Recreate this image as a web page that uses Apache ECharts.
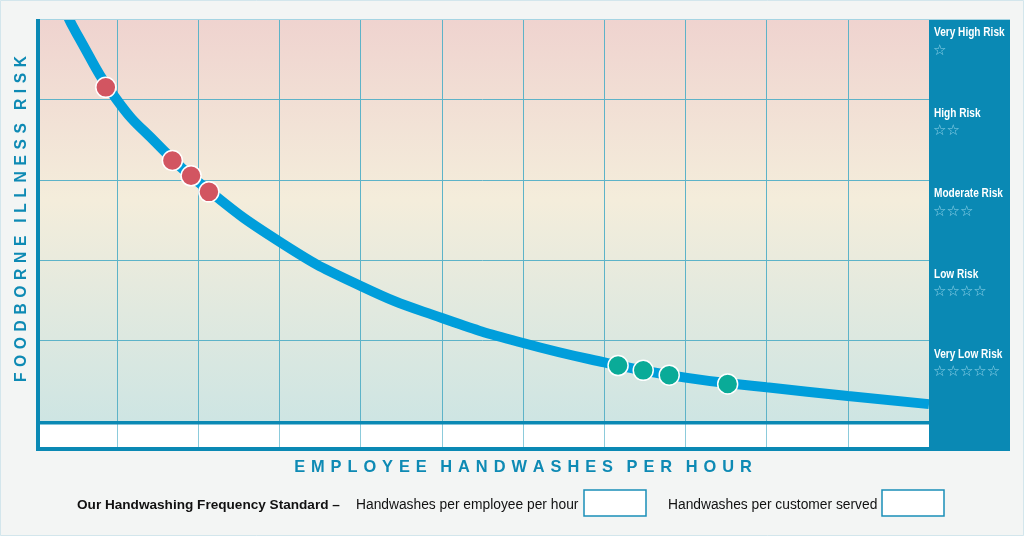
<!DOCTYPE html>
<html>
<head>
<meta charset="utf-8">
<script src="https://cdn.jsdelivr.net/npm/echarts@6/dist/echarts.min.js"></script>
<style>
html,body{margin:0;padding:0;background:#f3f5f4;}
#chart{width:1024px;height:536px;}
</style>
</head>
<body>
<div id="chart"></div>
<script>
// values: x = handwashes (grid columns), y = risk (grid rows)
var riskLevels = ['Very High Risk', 'High Risk', 'Moderate Risk', 'Low Risk', 'Very Low Risk'];
var riskStars = [1, 2, 3, 4, 5];
var riskCurve = [
    [0.33, 5.17], [0.5, 4.82], [1, 3.99], [1.5, 3.44], [2, 2.97],
    [3, 2.23], [4, 1.68], [5, 1.28], [6, 0.97], [7, 0.73],
    [8, 0.54], [9, 0.42], [10, 0.31], [11, 0.21]
];
var lowWashers = [[0.86, 4.15], [1.68, 3.24], [1.91, 3.05], [2.13, 2.85]];
var highWashers = [[7.17, 0.69], [7.48, 0.63], [7.80, 0.57], [8.52, 0.46]];
var xTitle = 'EMPLOYEE HANDWASHES PER HOUR';
var yTitle = 'FOODBORNE ILLNESS RISK';
var standardLabel = 'Our Handwashing Frequency Standard \u2013';
var fieldLabels = ['Handwashes per employee per hour', 'Handwashes per customer served'];

var blue = '#0a89b4';
var pageBg = '#f3f5f4';
var gridLeft = 36, gridRight = 929, gridTop = 19, gridBottom = 421;
var rowH = (gridBottom - gridTop) / riskLevels.length;

function spaced(s) {
    return s.split(' ').map(function (w) { return w.split('').join(' \u200A'); }).join('   ');
}

var chart = echarts.init(document.getElementById('chart'));

var graphics = [
    {type: 'rect', z: 0, shape: {x: 0.5, y: 0.5, width: 1023, height: 535}, style: {fill: 'none', stroke: '#d3e6ec', lineWidth: 1}},
    // hides the curve where it runs off the top of the plot
    {type: 'rect', z: 9, shape: {x: gridLeft, y: 2, width: gridRight - gridLeft, height: gridTop - 2}, style: {fill: pageBg}},
    {type: 'rect', z: 10, shape: {x: gridRight, y: gridTop, width: 81, height: 432}, style: {fill: blue}},
    {type: 'rect', z: 10, shape: {x: gridLeft, y: gridTop, width: 4, height: 432}, style: {fill: blue}},
    {type: 'rect', z: 10, shape: {x: gridLeft, y: gridBottom, width: gridRight - gridLeft, height: 3.5}, style: {fill: blue}},
    {type: 'rect', z: 10, shape: {x: gridLeft, y: 447, width: 974, height: 4}, style: {fill: blue}},
    {type: 'line', z: 10, shape: {x1: 40, y1: 19.5, x2: 1010, y2: 19.5}, style: {stroke: '#a6d4e2', lineWidth: 1}},
    {type: 'text', z: 10, x: 22, y: 219, rotation: Math.PI / 2,
        style: {text: spaced(yTitle), fill: '#0e8ab4', font: 'bold 15.6px "Liberation Sans", Arial, sans-serif', align: 'center', verticalAlign: 'middle'}},
    {type: 'text', z: 10, x: 523, y: 467,
        style: {text: spaced(xTitle), fill: '#0e8ab4', font: 'bold 16.4px "Liberation Sans", Arial, sans-serif', align: 'center', verticalAlign: 'middle'}},
    {type: 'text', z: 10, x: 77, y: 505,
        style: {text: standardLabel, fill: '#111', font: 'bold 13.6px "Liberation Sans", Arial, sans-serif', verticalAlign: 'middle'}},
    {type: 'text', z: 10, x: 356, y: 505,
        style: {text: fieldLabels[0], fill: '#111', font: '13.8px "Liberation Sans", Arial, sans-serif', verticalAlign: 'middle'}},
    {type: 'rect', z: 10, shape: {x: 584, y: 490, width: 62, height: 26}, style: {fill: '#fff', stroke: '#1a8fb8', lineWidth: 1.5}},
    {type: 'text', z: 10, x: 668, y: 505,
        style: {text: fieldLabels[1], fill: '#111', font: '13.8px "Liberation Sans", Arial, sans-serif', verticalAlign: 'middle'}},
    {type: 'rect', z: 10, shape: {x: 882, y: 490, width: 62, height: 26}, style: {fill: '#fff', stroke: '#1a8fb8', lineWidth: 1.5}}
];

riskLevels.forEach(function (name, i) {
    var top = gridTop + i * rowH;
    graphics.push({type: 'text', z: 11, x: 934, y: top + 14, scaleX: 0.84,
        style: {text: name, fill: '#fff', font: 'bold 12px "Liberation Sans", Arial, sans-serif', verticalAlign: 'middle'}});
    graphics.push({type: 'text', z: 11, x: 933, y: top + 32,
        style: {text: new Array(riskStars[i] + 1).join('\u2606'), fill: '#8fd2e8', font: '15px "DejaVu Sans", sans-serif', verticalAlign: 'middle'}});
});

var gridLine = {show: true, lineStyle: {color: '#5db3c8', width: 1}};

var option = {
    backgroundColor: pageBg,
    animation: false,
    grid: [
        {left: gridLeft, right: 1024 - gridRight, top: gridTop, bottom: 536 - gridBottom, show: true, borderWidth: 0,
            backgroundColor: new echarts.graphic.LinearGradient(0, 0, 0, 1, [
                {offset: 0, color: '#efd3cf'},
                {offset: 0.45, color: '#f4eddb'},
                {offset: 1, color: '#cee5e3'}
            ])},
        {left: gridLeft, right: 1024 - gridRight, top: 424, bottom: 536 - 447, show: true, borderWidth: 0, backgroundColor: '#fff'}
    ],
    xAxis: [
        {gridIndex: 0, type: 'value', min: 0, max: 11, interval: 1, axisLine: {show: false}, axisTick: {show: false}, axisLabel: {show: false}, splitLine: gridLine},
        {gridIndex: 1, type: 'value', min: 0, max: 11, interval: 1, axisLine: {show: false}, axisTick: {show: false}, axisLabel: {show: false},
            splitLine: {show: true, lineStyle: {color: '#8ccbdb', width: 1}}}
    ],
    yAxis: [
        {gridIndex: 0, type: 'value', min: 0, max: 5, interval: 1, axisLine: {show: false}, axisTick: {show: false}, axisLabel: {show: false}, splitLine: gridLine},
        {gridIndex: 1, type: 'value', min: 0, max: 1, show: false}
    ],
    graphic: graphics,
    series: [
        {type: 'line', data: riskCurve, smooth: 0.5, showSymbol: false, symbol: 'none', z: 2,
            lineStyle: {color: '#009edb', width: 10}},
        {type: 'scatter', data: lowWashers, symbolSize: 20, z: 3,
            itemStyle: {color: '#d25561', borderColor: '#fff', borderWidth: 1.5, opacity: 1}},
        {type: 'scatter', data: highWashers, symbolSize: 20, z: 3,
            itemStyle: {color: '#0aab98', borderColor: '#fff', borderWidth: 1.5, opacity: 1}}
    ]
};

chart.setOption(option);
</script>
</body>
</html>
